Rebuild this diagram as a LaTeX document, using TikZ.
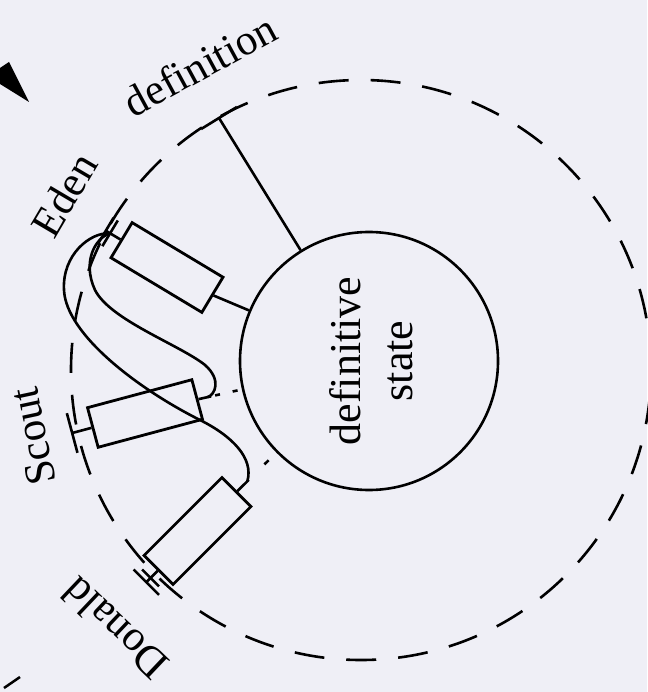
\documentclass[tikz,border=0pt]{standalone}
\usepackage{fontspec}
\setmainfont{Liberation Serif}
\usetikzlibrary{calc}
\definecolor{paper}{RGB}{239,239,246}
\begin{document}
\begin{tikzpicture}[x=1pt,y=-1pt,
  line width=2.6pt,
  unit/.style={draw, rectangle, minimum height=41pt, inner sep=0pt, line width=2.8pt},
  lbl/.style={inner sep=0pt, font=\fontsize{43}{50}\selectfont},
  ctext/.style={inner sep=0pt, font=\fontsize{44}{52}\selectfont, rotate=90, anchor=base},
  envc/.style={draw, circle, inner sep=0pt, minimum size=580pt, dash pattern=on 30pt off 22pt},
  statec/.style={draw, circle, inner sep=0pt, minimum size=258pt}
]
\fill[paper] (0,0) rectangle (647,692);
\useasboundingbox (0,0) rectangle (647,692);

% circles
\node[envc] (env) at (361,370) {};
\node[statec] (ds) at (369,361) {};
\node[ctext] (tdef) at (360,361) {definitive};
\node[ctext] (tstate) at (412,361) {state};

% boxes
\node[unit, minimum width=106pt, rotate=-31] (eden) at (167,267.5) {};
\node[unit, minimum width=108pt, rotate=15] (scout) at (145,413.5) {};
\node[unit, minimum width=110pt, rotate=45] (donald) at (197.5,531) {};

% labels
\node[lbl, rotate=28.5] (ldef) at (200,65) {definition};
\node[lbl, rotate=59.5] (leden) at (64,195) {Eden};
\node[lbl, rotate=102] (lscout) at (33,437) {Scout};
\node[lbl, rotate=136.5] (ldonald) at (115,629) {Donald};

% definition connector
\coordinate (defT) at (219,118);
\draw (ds) -- (defT);
\draw ($(defT)!21pt!90:(ds.center)$) -- ($(defT)!21pt!-90:(ds.center)$);

% inner connectors
\draw (eden.east) -- (ds);
\draw[dash pattern=on 13pt off 4pt on 5pt off 13pt on 5pt off 20pt] (scout.east) -- (ds);
\draw[dash pattern=on 16pt off 22pt on 6pt off 30pt] (donald.east) -- (ds);
\coordinate (sJ) at ($(scout.east)!9pt!(ds.center)$);
\coordinate (dJ) at ($(donald.east)!14pt!(ds.center)$);

% outer ends
\coordinate (eT) at ($(eden.west)!-12pt!(eden.east)$);
\coordinate (eT2) at ($(eden.west)!-17pt!(eden.east)$);
\draw (eden.west) -- (eT2);
\draw ($(eT)!15pt!90:(eden.west)$) -- ($(eT)!15pt!-90:(eden.west)$);
\draw ($(eT2)!15pt!90:(eden.west)$) -- ($(eT2)!15pt!-90:(eden.west)$);

\coordinate (sT) at ($(scout.west)!-20pt!(scout.east)$);
\draw (scout.west) -- (sT);
\draw ($(sT)!20.5pt!90:(scout.west)$) -- ($(sT)!20.5pt!-90:(scout.west)$);

\coordinate (dT) at ($(donald.west)!-10pt!(donald.east)$);
\coordinate (dT2) at ($(donald.west)!-16pt!(donald.east)$);
\draw (donald.west) -- (dT2);
\draw ($(dT)!12pt!90:(donald.west)$) -- ($(dT)!12pt!-90:(donald.west)$);
\draw ($(dT2)!18pt!90:(donald.west)$) -- ($(dT2)!18pt!-90:(donald.west)$);

% curves from Eden
\draw (eT) .. controls (90,232) and (62,255) .. (64,290)
      .. controls (66,335) and (140,390) .. (200,420)
      .. controls (232,436) and (254,458) .. (dJ);
\draw (eT) .. controls (95,238) and (82,262) .. (95,290)
      .. controls (110,320) and (180,345) .. (205,365)
      .. controls (222,380) and (215,395) .. (sJ);

% stray marks
\fill (9,62) -- (29,102) -- (0,84) -- (0,68) -- cycle;
\draw[line width=2.5pt] (4,688) -- (20,677);
\end{tikzpicture}
\end{document}
